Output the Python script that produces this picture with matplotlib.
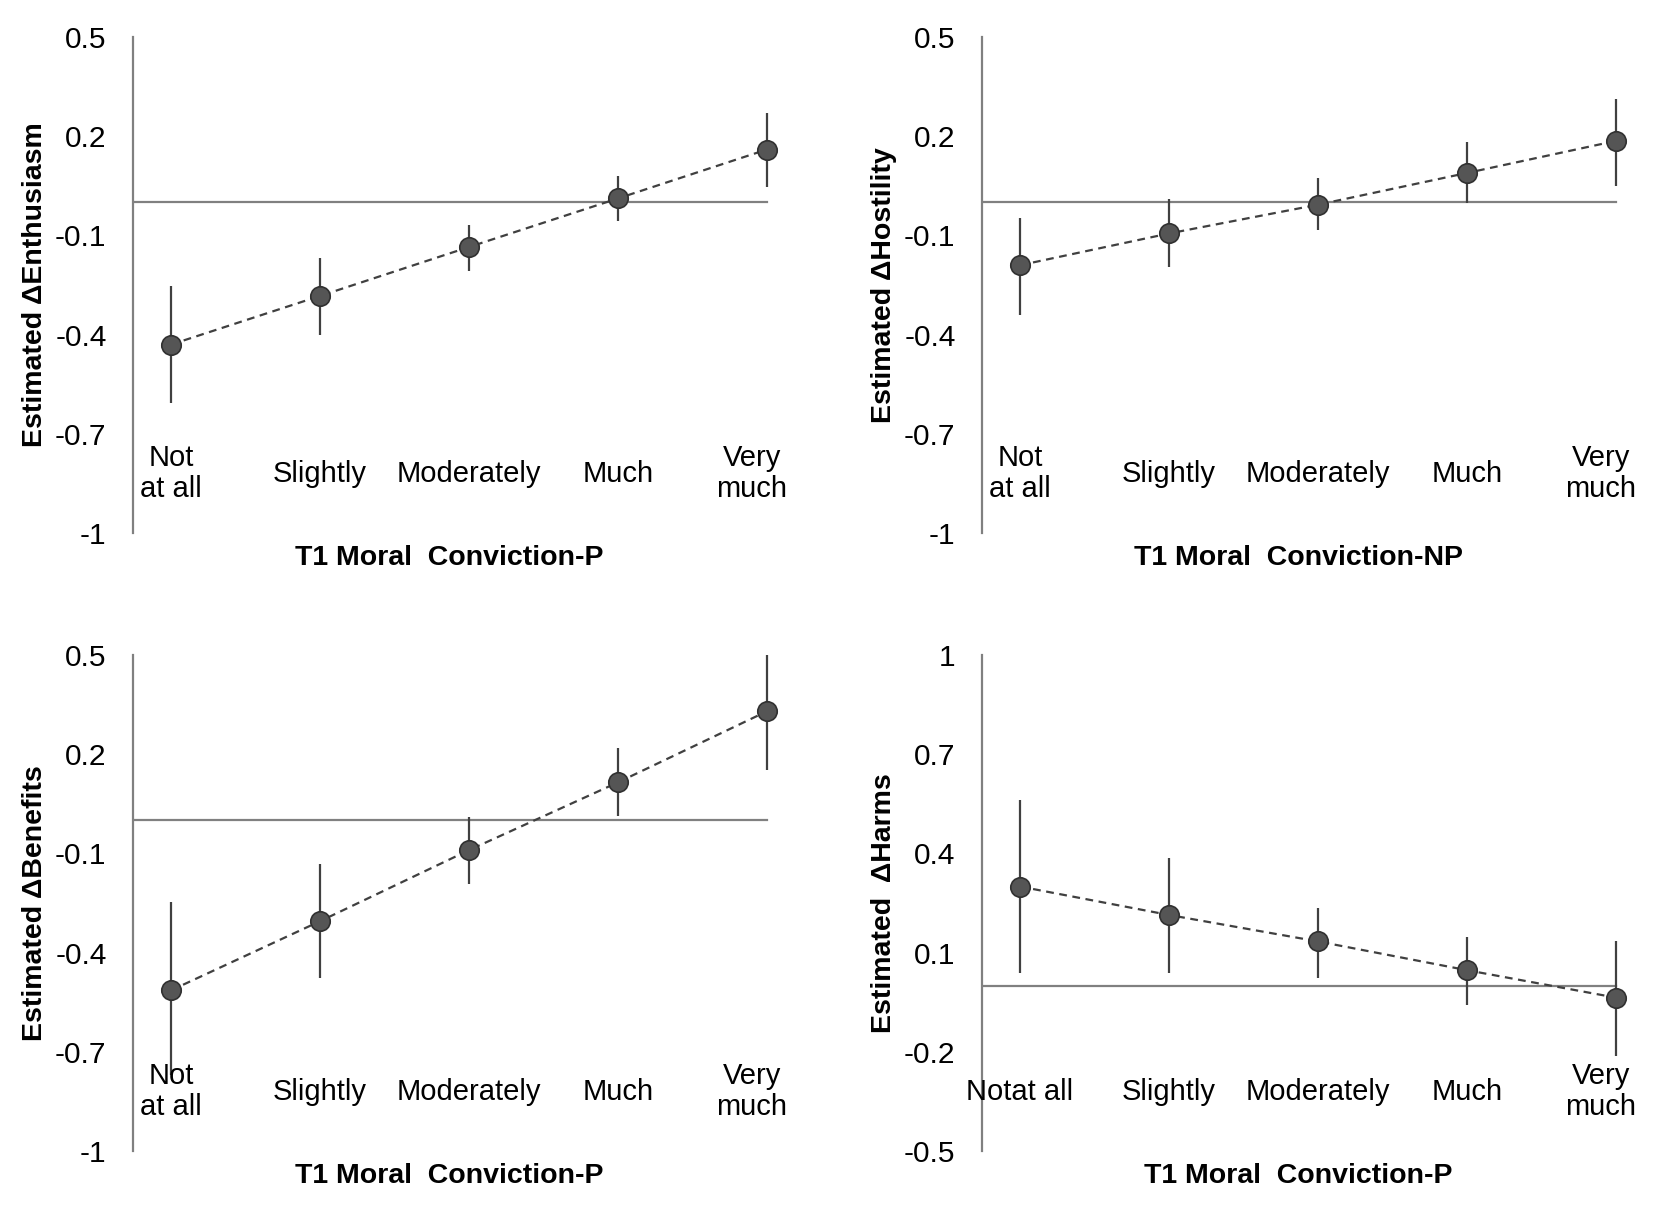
import numpy as np
import matplotlib.pyplot as plt

plt.rcParams['font.family'] = ['Liberation Sans', 'DejaVu Sans']

categories = ["Not\nat all", "Slightly", "Moderately", "Much", "Very\nmuch"]
categories_harms = ["Notat all", "Slightly", "Moderately", "Much", "Very\nmuch"]

# estimates, with lower / upper ends of the bars
enth = [-0.43, -0.283, -0.135, 0.012, 0.16]
enth_lo = [-0.607, -0.402, -0.206, -0.055, 0.048]
enth_hi = [-0.254, -0.167, -0.068, 0.08, 0.269]

host = [-0.19, -0.094, -0.007, 0.089, 0.186]
host_lo = [-0.341, -0.196, -0.084, -0.001, 0.051]
host_hi = [-0.046, 0.009, 0.073, 0.182, 0.314]

bene = [-0.514, -0.305, -0.09, 0.115, 0.33]
bene_lo = [-0.77, -0.478, -0.193, 0.012, 0.153]
bene_hi = [-0.248, -0.131, 0.009, 0.218, 0.5]

harm = [0.30, 0.214, 0.134, 0.047, -0.036]
harm_lo = [0.037, 0.037, 0.024, -0.058, -0.213]
harm_hi = [0.563, 0.387, 0.236, 0.146, 0.134]

ticks_a = [0.5, 0.2, -0.1, -0.4, -0.7, -1]
ticks_b = [1, 0.7, 0.4, 0.1, -0.2, -0.5]


def draw_panel(ax, vals, lo, hi, ylabel, xlabel, ticks, labels):
    x = np.arange(len(vals))
    ax.set_xlim(-0.255, 4.25)
    ax.set_ylim(min(ticks), max(ticks))
    ax.set_yticks(ticks)
    ax.set_yticklabels([f"{t:g}" for t in ticks])
    ax.set_xticks([])
    ax.tick_params(axis='y', length=0, pad=19, labelsize=21.5)
    for s in ["top", "right", "bottom"]:
        ax.spines[s].set_visible(False)
    ax.spines["left"].set_color("#808080")
    ax.spines["left"].set_linewidth(1.6)

    # zero line stops at the last category
    ax.plot([-0.255, 4], [0, 0], color="#808080", lw=1.6, zorder=1)

    ax.vlines(x, lo, hi, color="#404040", lw=1.6, zorder=2)
    ax.plot(x, vals, color="#404040", ls=(0, (3.5, 2.5)), lw=1.6, zorder=3)
    ax.plot(x, vals, ls="none", marker="o", ms=14, mfc="#555555",
            mec="#303030", mew=1.2, zorder=4, clip_on=False)

    trans = ax.get_xaxis_transform()
    for i, lab in enumerate(labels):
        xpos = i - 0.1 if lab.startswith("Very") else i
        ax.text(xpos, 0.12, lab, transform=trans, ha="center", va="center",
                fontsize=21, linespacing=1.15)

    ax.text(1.87, -0.05, xlabel, transform=trans, ha="center", va="center",
            fontsize=20.5, fontweight="bold")
    ax.text(-0.146, 0.5, ylabel, transform=ax.transAxes, rotation=90,
            ha="center", va="center", fontsize=20.5, fontweight="bold")


fig = plt.figure(figsize=(16.54, 12.12), dpi=100)
w, h = 0.4058, 0.4092
ax1 = fig.add_axes([0.0804, 0.5602, w, h])
ax2 = fig.add_axes([0.5937, 0.5602, w, h])
ax3 = fig.add_axes([0.0804, 0.0503, w, h])
ax4 = fig.add_axes([0.5937, 0.0503, w, h])

draw_panel(ax1, enth, enth_lo, enth_hi, "Estimated \u0394Enthusiasm",
           "T1 Moral  Conviction-P", ticks_a, categories)
draw_panel(ax2, host, host_lo, host_hi, "Estimated \u0394Hostility",
           "T1 Moral  Conviction-NP", ticks_a, categories)
draw_panel(ax3, bene, bene_lo, bene_hi, "Estimated \u0394Benefits",
           "T1 Moral  Conviction-P", ticks_a, categories)
draw_panel(ax4, harm, harm_lo, harm_hi, "Estimated  \u0394Harms",
           "T1 Moral  Conviction-P", ticks_b, categories_harms)

fig.savefig("out.png", dpi=100)
